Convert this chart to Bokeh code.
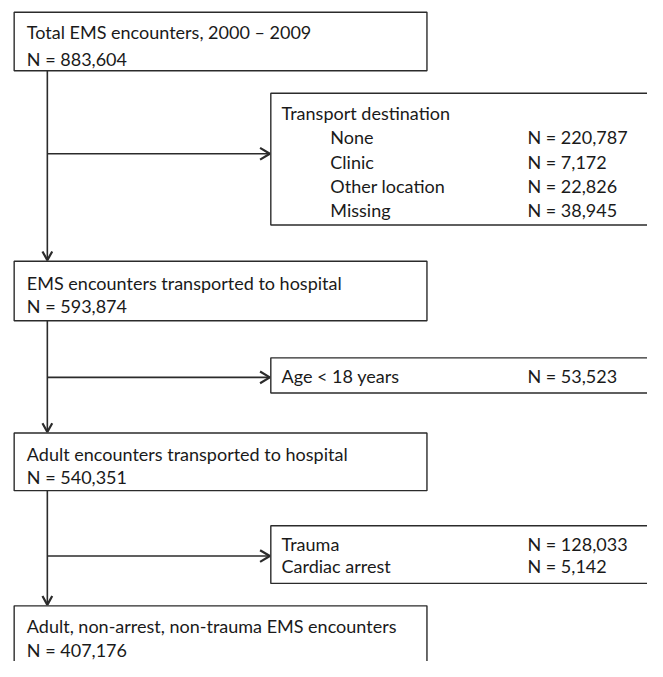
from bokeh.plotting import figure
from bokeh.models import Range1d, ColumnDataSource
from bokeh.core.properties import value
from bokeh.embed import file_html
from bokeh.resources import INLINE

# ---- data (texts of the flow chart) ----
main_titles = ["Total EMS encounters, 2000 \u2013 2009",
               "EMS encounters transported to hospital",
               "Adult encounters transported to hospital",
               "Adult, non-arrest, non-trauma EMS encounters"]
main_counts = ["N = 883,604", "N = 593,874", "N = 540,351", "N = 407,176"]

excl1_title = "Transport destination"
excl1_labels = ["None", "Clinic", "Other location", "Missing"]
excl1_counts = ["N = 220,787", "N = 7,172", "N = 22,826", "N = 38,945"]

excl2_labels = ["Age < 18 years"]
excl2_counts = ["N = 53,523"]

excl3_labels = ["Trauma", "Cardiac arrest"]
excl3_counts = ["N = 128,033", "N = 5,142"]

# ---- layout (reference pixel coordinates) ----
FONT = value("Lato")
FS = "18px"
LC = "#2b2b2b"

p = figure(width=647, height=661, output_backend="svg", toolbar_location=None,
           x_range=Range1d(0, 663), y_range=Range1d(677, 0),
           min_border=0, tools="")
p.axis.visible = False
p.grid.visible = False
p.outline_line_color = None
p.background_fill_color = "white"

# main boxes: (left, right, top, bottom)
main_boxes = [(14, 437, 12, 72), (14, 437, 267, 328), (14, 437, 443, 502), (14, 437, 620, 720)]
main_text_y = [(32, 60), (289, 313), (464, 488), (641, 665)]
excl_boxes = [(277, 720, 95, 230), (277, 720, 366, 402), (277, 720, 538, 597)]

XL = 48
# connector lines
seg_x = [[XL, XL], [XL, XL], [XL, XL]]
seg_y = [[72, 266], [328, 442], [502, 619]]
p.multi_line(seg_x, seg_y, line_color=LC, line_width=1.6)
arr_y = [157, 386, 569]
p.multi_line([[XL, 276]] * 3, [[y, y] for y in arr_y], line_color=LC, line_width=1.6)

# arrowheads (chevrons)
chev_x, chev_y = [], []
for top in [267, 443, 620]:
    chev_x.append([XL - 5, XL, XL + 5]); chev_y.append([top - 10, top - 1, top - 10])
for y in arr_y:
    chev_x.append([266, 276, 266]); chev_y.append([y - 6, y, y + 6])
p.multi_line(chev_x, chev_y, line_color=LC, line_width=2.2)

boxes = main_boxes + excl_boxes
p.quad(left=[b[0] for b in boxes], right=[b[1] for b in boxes],
       top=[b[2] for b in boxes], bottom=[b[3] for b in boxes],
       fill_color="white", line_color=LC, line_width=1.4)

# main texts
tx, ty, tt = [], [], []
for (y1, y2), t, n in zip(main_text_y, main_titles, main_counts):
    tx += [27, 27]; ty += [y1, y2]; tt += [t, n]

# exclusion texts
tx.append(288); ty.append(115); tt.append(excl1_title)
for i, (lab, n) in enumerate(zip(excl1_labels, excl1_counts)):
    yy = 140 + 25 * i
    tx += [338, 540]; ty += [yy, yy]; tt += [lab, n]
for lab, n in zip(excl2_labels, excl2_counts):
    tx += [288, 540]; ty += [385, 385]; tt += [lab, n]
for i, (lab, n) in enumerate(zip(excl3_labels, excl3_counts)):
    yy = 557 + 22 * i
    tx += [288, 540]; ty += [yy, yy]; tt += [lab, n]

src = ColumnDataSource(dict(x=tx, y=ty, t=tt))
p.text(x="x", y="y", text="t", source=src, text_font=FONT, text_font_size=FS,
       text_baseline="middle", text_align="left", text_color="#1a1a1a")

open("out.html", "w").write(file_html(p, INLINE))
